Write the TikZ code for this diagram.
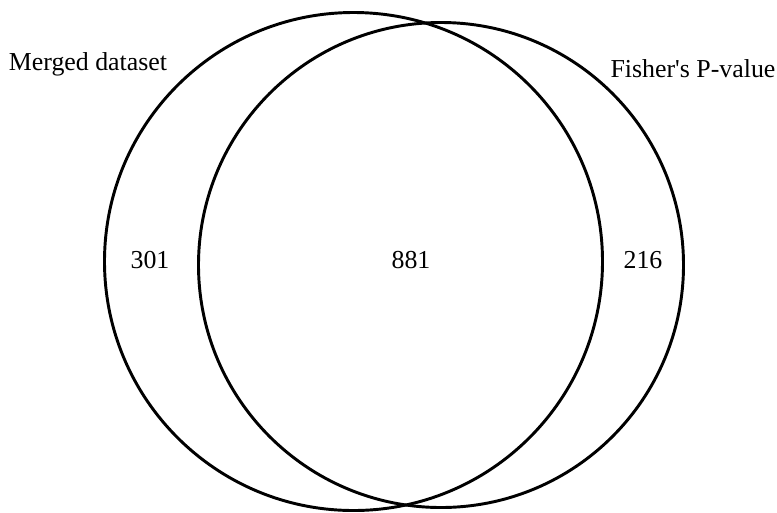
\documentclass[tikz,border=0pt]{standalone}
\usepackage{fontspec}
\setmainfont{Liberation Serif}
\newfontfamily\labelfont{Liberation Serif}
\usepackage{tikz}
\usetikzlibrary{positioning}

\tikzset{
    setcircle/.style={draw, circle, line width=2.2pt, inner sep=0pt},
    setlabel/.style={font=\labelfont\fontsize{19.4}{22}\selectfont, inner sep=0pt, anchor=base}
}

\begin{document}
\begin{tikzpicture}[x=0.75pt, y=-0.75pt]
    \useasboundingbox (0,0) rectangle (777,512);
    \node[setcircle, minimum size=373.5pt] (merged) at (353.5,261.5) {};
    \node[setcircle, minimum size=363.75pt] (fisher) at (441,265) {};

    \node[setlabel] (mergedname) at (88,70) {Merged dataset};
    \node[setlabel] (fishername) at (693,77) {Fisher's P-value};

    \node[setlabel] (onlymerged) at (150,268) {301};
    \node[setlabel] (both) at (411,268) {881};
    \node[setlabel] (onlyfisher) at (643,268) {216};
\end{tikzpicture}
\end{document}
